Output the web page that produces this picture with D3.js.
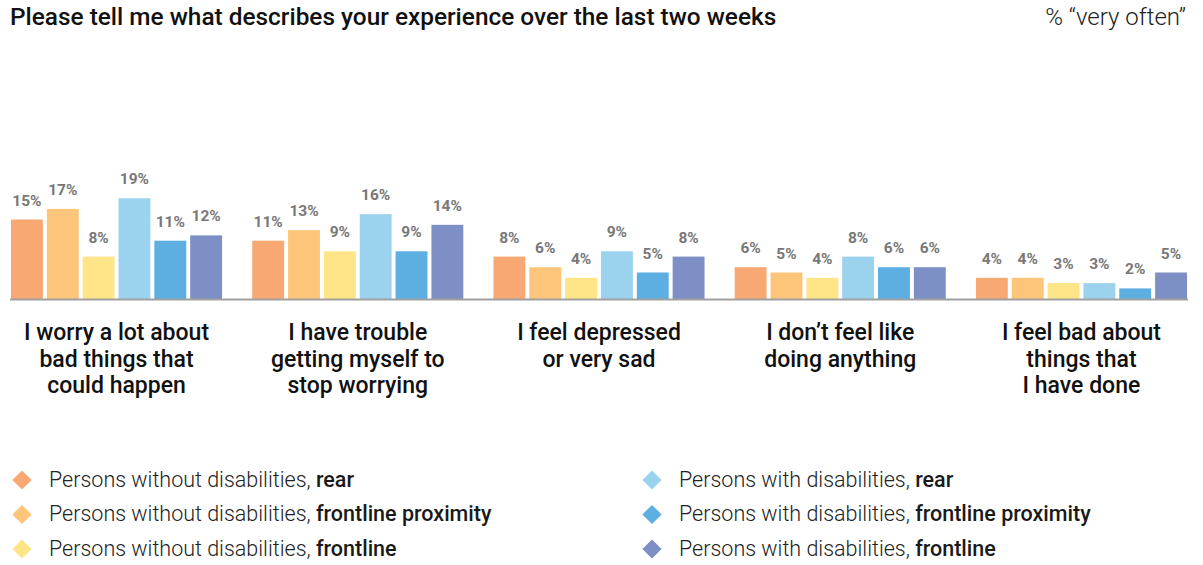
<!DOCTYPE html>
<html>
<head>
<meta charset="utf-8">
<script src="https://cdn.jsdelivr.net/npm/d3@7/dist/d3.min.js"></script>
<style>
  html, body { margin: 0; padding: 0; background: #fff; }
  svg { display: block; font-family: Roboto, "Noto Sans", sans-serif; }
</style>
</head>
<body>
<svg id="chart" width="1203" height="565"></svg>
<script>
// Statements shown along the x axis (one entry per line of the label)
const categories = [
  ["I worry a lot about", "bad things that", "could happen"],
  ["I have trouble", "getting myself to", "stop worrying"],
  ["I feel depressed", "or very sad"],
  ["I don\u2019t feel like", "doing anything"],
  ["I feel bad about", "things that", "I have done"]
];

// Respondent groups, in bar order inside each cluster
const seriesNames = [
  ["Persons without disabilities, ", "rear"],
  ["Persons without disabilities, ", "frontline proximity"],
  ["Persons without disabilities, ", "frontline"],
  ["Persons with disabilities, ", "rear"],
  ["Persons with disabilities, ", "frontline proximity"],
  ["Persons with disabilities, ", "frontline"]
];

const seriesColors = ["#F8A872", "#FDC57A", "#FEE588", "#9BD3EE", "#5DAFE1", "#7E8FC5"];

// % answering "very often", one row per statement, one value per group
const values = [
  [15, 17, 8, 19, 11, 12],
  [11, 13, 9, 16, 9, 14],
  [8, 6, 4, 9, 5, 8],
  [6, 5, 4, 8, 6, 6],
  [4, 4, 3, 3, 2, 5]
];

const svg = d3.select("#chart");

// Title and unit note
svg.append("text")
  .attr("x", 10).attr("y", 25)
  .attr("font-size", 24.4).attr("font-weight", 500).attr("fill", "#111")
  .text("Please tell me what describes your experience over the last two weeks");

svg.append("text")
  .attr("x", 1186).attr("y", 25)
  .attr("text-anchor", "end")
  .attr("font-size", 24).attr("font-weight", 300).attr("fill", "#222")
  .text("% \u201Cvery often\u201D");

// Scales
const x0 = d3.scaleBand()
  .domain(d3.range(categories.length))
  .range([11, 1187])
  .paddingInner(0.125)
  .paddingOuter(0);

const x1 = d3.scaleBand()
  .domain(d3.range(seriesNames.length))
  .range([0, x0.bandwidth()])
  .paddingInner(0.11)
  .paddingOuter(0);

const y = d3.scaleLinear().domain([0, 20]).range([299, 193]);

// Bars and value labels
const groups = svg.append("g").selectAll("g")
  .data(values)
  .join("g")
  .attr("transform", (d, i) => `translate(${x0(i)},0)`);

groups.selectAll("rect")
  .data(d => d)
  .join("rect")
  .attr("x", (d, j) => x1(j))
  .attr("y", d => y(d))
  .attr("width", x1.bandwidth())
  .attr("height", d => y(0) - y(d))
  .attr("fill", (d, j) => seriesColors[j]);

groups.selectAll("text.val")
  .data(d => d)
  .join("text")
  .attr("class", "val")
  .attr("x", (d, j) => x1(j) + x1.bandwidth() / 2)
  .attr("y", d => y(d) - 14)
  .attr("text-anchor", "middle")
  .attr("font-size", 15.5).attr("font-weight", 700).attr("fill", "#787878")
  .text(d => d + "%");

// Baseline
svg.append("line")
  .attr("x1", 10).attr("x2", 1188)
  .attr("y1", y(0) + 0.5).attr("y2", y(0) + 0.5)
  .attr("stroke", "#a0a0a0").attr("stroke-width", 2);

// Category labels under each cluster
const catLabels = svg.append("g").selectAll("text")
  .data(categories)
  .join("text")
  .attr("x", (d, i) => x0(i) + x0.bandwidth() / 2)
  .attr("y", 340)
  .attr("text-anchor", "middle")
  .attr("font-size", 23).attr("font-weight", 500).attr("fill", "#111");

catLabels.selectAll("tspan")
  .data(d => d)
  .join("tspan")
  .attr("x", function () { return d3.select(this.parentNode).attr("x"); })
  .attr("dy", (d, k) => k === 0 ? 0 : 26.5)
  .text(d => d);

// Legend: two columns of three entries
const legend = svg.append("g").selectAll("g")
  .data(seriesNames)
  .join("g")
  .attr("transform", (d, i) => `translate(${i < 3 ? 22 : 652},${480 + (i % 3) * 34.5})`);

legend.append("rect")
  .attr("x", -6.8).attr("y", -6.8)
  .attr("width", 13.6).attr("height", 13.6)
  .attr("transform", "rotate(45)")
  .attr("fill", (d, i) => seriesColors[i]);

const legendText = legend.append("text")
  .attr("x", 27).attr("y", 6.5)
  .attr("font-size", 21.5).attr("fill", "#222");

legendText.append("tspan").attr("font-weight", 300).text(d => d[0]);
legendText.append("tspan").attr("font-weight", 500).attr("fill", "#1a1a1a").text(d => d[1]);
</script>
</body>
</html>
